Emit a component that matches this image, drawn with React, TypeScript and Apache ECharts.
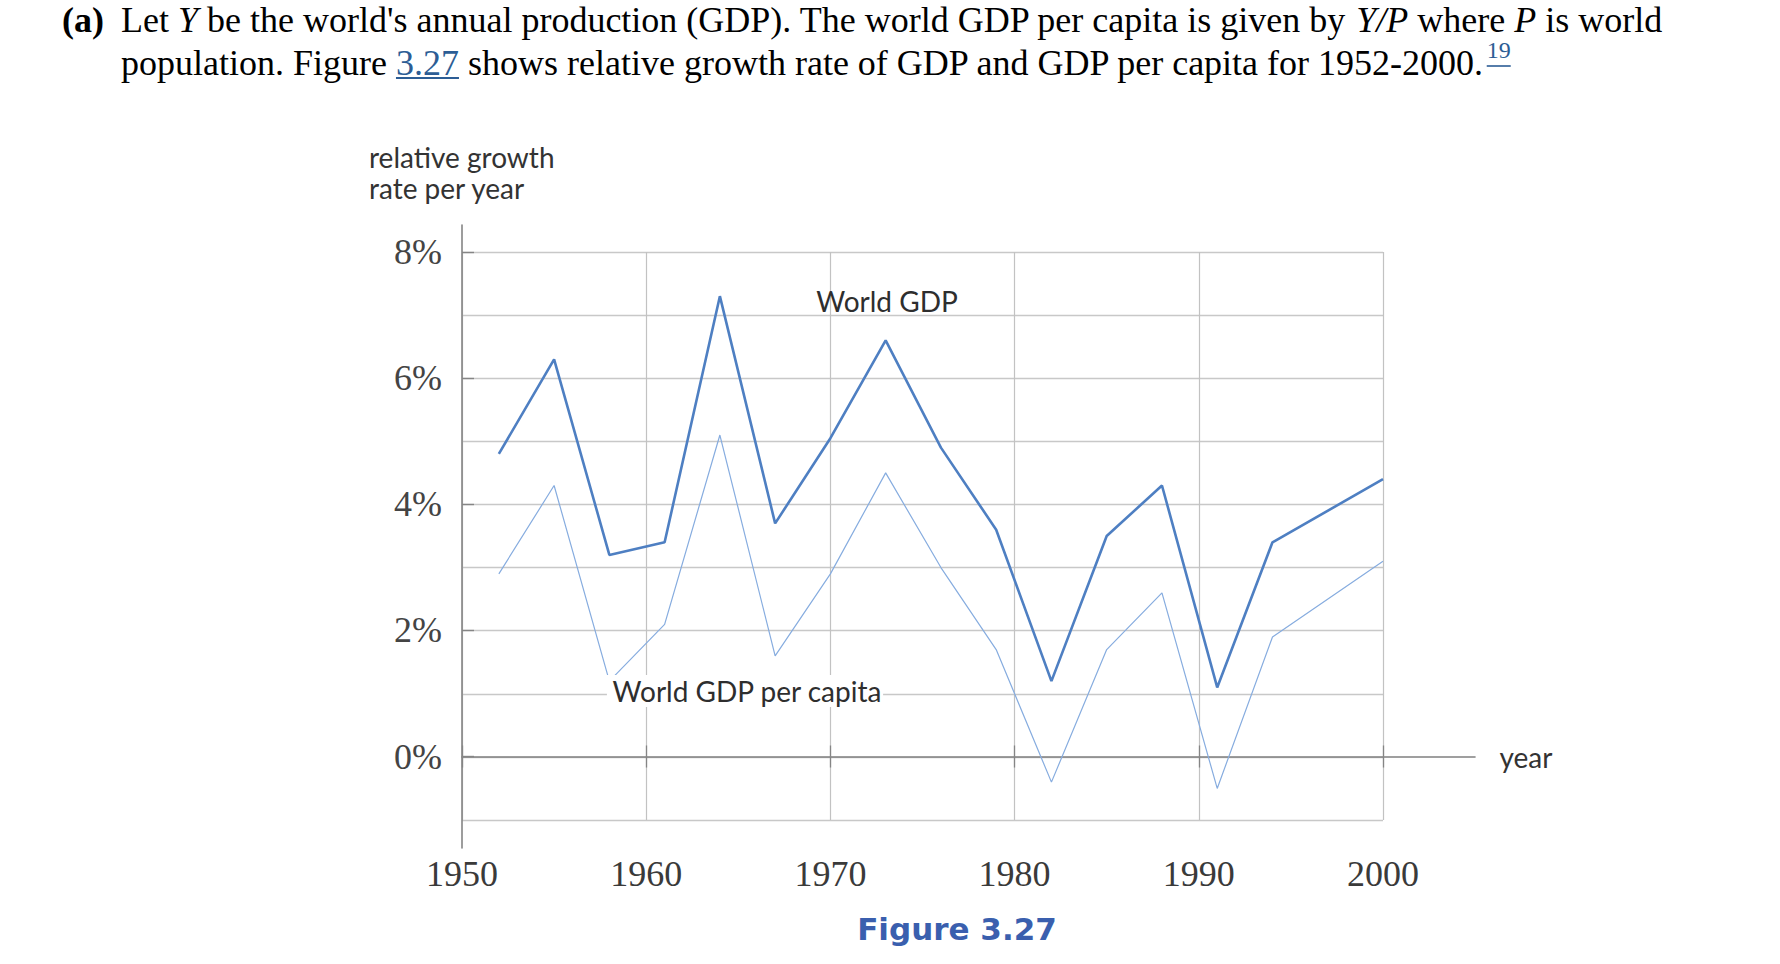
import React, { useEffect, useRef } from 'react';
import * as echarts from 'echarts';

// ---- data ----
const years = [1952, 1955, 1958, 1961, 1964, 1967, 1970, 1973, 1976, 1979, 1982, 1985, 1988, 1991, 1994, 2000];
const worldGdp = [4.8, 6.3, 3.2, 3.4, 7.3, 3.7, 5.05, 6.6, 4.9, 3.6, 1.2, 3.5, 4.3, 1.1, 3.4, 4.4];
const worldGdpPerCapita = [2.9, 4.3, 1.2, 2.1, 5.1, 1.6, 2.9, 4.5, 3.0, 1.7, -0.4, 1.7, 2.6, -0.5, 1.9, 3.1];
const yearRange = [1950, 2000];
const yearStep = 10;
const percentRange = [-1, 8];
const labelledPercentRange = [0, 8];
const labelledPercentStep = 2;

const titleLine1Rich =
  "{n|Let }{i|Y}{n| be the world's annual production (GDP). The world GDP per capita is given by }{i|Y/P}{n| where }{i|P}{n| is world}";
const titleLine2a = 'population. Figure ';
const titleLink = '3.27';
const titleLine2b = 'shows relative growth rate of GDP and GDP per capita for 1952-2000.';
const footnote = '19';

export default function App() {
  const ref = useRef<HTMLDivElement>(null);

  useEffect(() => {
    const el = ref.current;
    if (!el) return;
    const chart = echarts.init(el, null, { renderer: 'svg' });

    const serif = '"Liberation Serif", "Times New Roman", serif';
    const sans = 'Lato, "Noto Sans", sans-serif';
    const linkColor = '#2c5d95';

    const measure = (text: string, font: string) => {
      const t = new (echarts.graphic as any).Text({ style: { text, font } });
      return t.getBoundingRect().width;
    };

    const titleFont = '36px "Liberation Serif"';
    const x0 = 121;
    const line1Y = 19.5;
    const line2Y = 62.5;
    const linkX = x0 + measure(titleLine2a, titleFont);
    const linkW = measure(titleLink, titleFont);
    const restX = linkX + measure(titleLink + ' ', titleFont);
    const restW = measure(titleLine2b, titleFont);
    const supX = restX + restW + 1;
    const supW = measure(footnote, '24px "Liberation Serif"');

    const gridLine = '#c8c8c8';
    const axisGray = '#858585';

    const option: any = {
      animation: false,
      backgroundColor: '#ffffff',
      grid: [
        { left: 462, top: 252, width: 921, height: 568 },
        { left: 462, top: 252, width: 921, height: 504.5 },
        { left: 462, top: 252, width: 1013, height: 504.5 },
        { left: 462, top: 225, width: 20, height: 623 },
        { left: 462, top: 252, width: 921, height: 504.5 },
      ],
      xAxis: [
        {
          gridIndex: 0, type: 'value', min: yearRange[0], max: yearRange[1], interval: yearStep,
          axisLine: { show: false, onZero: false }, axisTick: { show: false },
          splitLine: { show: true, lineStyle: { color: '#c2c2c2', width: 1.2 } },
          axisLabel: { margin: 36, fontFamily: serif, fontSize: 36, color: '#3a3a3a', formatter: (v: number) => String(v) },
        },
        {
          gridIndex: 1, type: 'value', min: yearRange[0], max: yearRange[1], interval: yearStep, position: 'bottom',
          axisLine: { show: false, onZero: false },
          axisTick: { show: true, inside: false, length: 11, lineStyle: { color: axisGray, width: 1.3 } },
          axisLabel: { show: false }, splitLine: { show: false },
        },
        {
          gridIndex: 2, type: 'value', min: 0, max: 1, position: 'bottom',
          axisLine: { show: true, onZero: false, lineStyle: { color: '#808080', width: 1.6 } },
          axisTick: { show: false }, axisLabel: { show: false }, splitLine: { show: false },
        },
        { gridIndex: 3, type: 'value', min: 0, max: 1, show: false },
        {
          gridIndex: 4, type: 'value', min: yearRange[0], max: yearRange[1], interval: yearStep, position: 'bottom',
          axisLine: { show: false, onZero: false },
          axisTick: { show: true, inside: true, length: 11, lineStyle: { color: axisGray, width: 1.3 } },
          axisLabel: { show: false }, splitLine: { show: false },
        },
      ],
      yAxis: [
        {
          gridIndex: 0, type: 'value', min: percentRange[0], max: percentRange[1], interval: 1,
          axisLine: { show: false }, axisTick: { show: false }, axisLabel: { show: false },
          splitLine: { show: true, lineStyle: { color: gridLine, width: 1.4 } },
        },
        {
          gridIndex: 1, type: 'value', min: labelledPercentRange[0], max: labelledPercentRange[1], interval: labelledPercentStep,
          axisLine: { show: false },
          axisTick: { show: true, inside: true, length: 12, lineStyle: { color: axisGray, width: 1.4 } },
          axisLabel: { margin: 20, formatter: '{value}%', fontFamily: serif, fontSize: 36, color: '#444444' },
          splitLine: { show: false },
        },
        { gridIndex: 2, type: 'value', min: 0, max: 1, show: false },
        {
          gridIndex: 3, type: 'value', min: 0, max: 1, position: 'left',
          axisLine: { show: true, lineStyle: { color: axisGray, width: 1.6 } },
          axisTick: { show: false }, axisLabel: { show: false }, splitLine: { show: false },
        },
        { gridIndex: 4, type: 'value', min: 0, max: 1, show: false },
      ],
      series: [
        {
          type: 'line', name: 'World GDP', xAxisIndex: 0, yAxisIndex: 0,
          data: years.map((y, i) => [y, worldGdp[i]]),
          symbol: 'none', showSymbol: false, z: 4,
          lineStyle: { color: '#4e7fc2', width: 2.6 },
        },
        {
          type: 'line', name: 'World GDP per capita', xAxisIndex: 0, yAxisIndex: 0,
          data: years.map((y, i) => [y, worldGdpPerCapita[i]]),
          symbol: 'none', showSymbol: false, z: 3,
          lineStyle: { color: '#86acdf', width: 1.2 },
        },
      ],
      graphic: {
        elements: [
          {
            type: 'text', x: 62, y: line1Y, z: 100,
            style: { text: '(a)', fontFamily: serif, fontSize: 36, fontWeight: 'bold', fill: '#000', verticalAlign: 'middle' },
          },
          {
            type: 'text', x: x0, y: line1Y, z: 100,
            style: {
              text: titleLine1Rich, verticalAlign: 'middle', fontFamily: serif, fontSize: 36, fill: '#000',
              rich: {
                n: { fontFamily: serif, fontSize: 36, fill: '#000', color: '#000' },
                i: { fontFamily: serif, fontSize: 36, fontStyle: 'italic', fill: '#000', color: '#000' },
              },
            },
          },
          {
            type: 'text', x: x0, y: line2Y, z: 100,
            style: { text: titleLine2a.trim(), fontFamily: serif, fontSize: 36, fill: '#000', verticalAlign: 'middle' },
          },
          {
            type: 'text', x: linkX, y: line2Y, z: 100,
            style: { text: titleLink, fontFamily: serif, fontSize: 36, fill: linkColor, verticalAlign: 'middle' },
          },
          {
            type: 'line', z: 100,
            shape: { x1: linkX, y1: 78, x2: linkX + linkW, y2: 78 },
            style: { stroke: linkColor, lineWidth: 2 },
          },
          {
            type: 'text', x: restX, y: line2Y, z: 100,
            style: { text: titleLine2b, fontFamily: serif, fontSize: 36, fill: '#000', verticalAlign: 'middle' },
          },
          {
            type: 'text', x: supX, y: 50, z: 100,
            style: { text: footnote, fontFamily: serif, fontSize: 24, fill: linkColor, verticalAlign: 'middle' },
          },
          {
            type: 'line', z: 100,
            shape: { x1: supX, y1: 66, x2: supX + supW, y2: 66 },
            style: { stroke: linkColor, lineWidth: 1.6 },
          },
          {
            type: 'text', x: 369, y: 143, z: 100,
            style: {
              text: 'relative growth', fontFamily: sans, fontSize: 28, fill: '#333', verticalAlign: 'top',
            },
          },
          {
            type: 'text', x: 369, y: 174, z: 100,
            style: {
              text: 'rate per year', fontFamily: sans, fontSize: 28, fill: '#333', verticalAlign: 'top',
            },
          },
          {
            type: 'text', x: 887, y: 301, z: 100,
            style: { text: 'World GDP', fontFamily: sans, fontSize: 28, fill: '#2e2e2e', align: 'center', verticalAlign: 'middle' },
          },
          {
            type: 'text', x: 745, y: 691, z: 100,
            style: {
              text: 'World GDP per capita', fontFamily: sans, fontSize: 28, fill: '#2e2e2e', align: 'center', verticalAlign: 'middle',
              backgroundColor: '#ffffff', padding: [2, 1, 2, 5],
            },
          },
          {
            type: 'text', x: 1526, y: 757, z: 100,
            style: { text: 'year', fontFamily: sans, fontSize: 28, fill: '#333', align: 'center', verticalAlign: 'middle' },
          },
          {
            type: 'text', x: 957, y: 929, z: 100,
            style: {
              text: 'Figure 3.27', fontFamily: '"DejaVu Sans", sans-serif', fontSize: 31, fontWeight: 'bold',
              fill: '#3a5fae', align: 'center', verticalAlign: 'middle',
            },
          },
        ],
      },
    };

    chart.setOption(option);
    return () => chart.dispose();
  }, []);

  return (
    <div
      ref={ref}
      style={{ position: 'absolute', left: 0, top: 0, width: 1780, height: 964, background: '#fff' }}
    />
  );
}
